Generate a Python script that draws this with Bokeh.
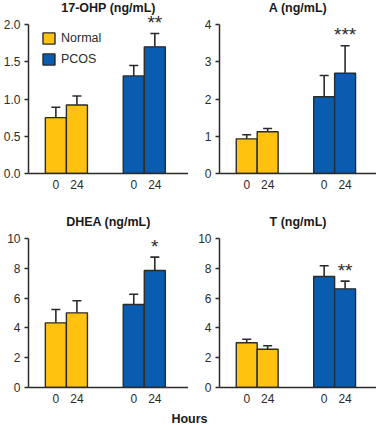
from bokeh.plotting import figure
from bokeh.layouts import column, row
from bokeh.models import (Range1d, FixedTicker, NumeralTickFormatter, Whisker, TeeHead,
                          ColumnDataSource, Legend, LegendItem, Label)
from bokeh.embed import file_html
from bokeh.resources import INLINE

# ---------------- data ----------------
groups = ["Normal", "PCOS"]
time_labels = ["0", "24"]

titles = ["17-OHP (ng/mL)", "A (ng/mL)", "DHEA (ng/mL)", "T (ng/mL)"]

ohp_normal = [0.75, 0.92]
ohp_normal_se = [0.14, 0.12]
ohp_pcos = [1.31, 1.70]
ohp_pcos_se = [0.14, 0.18]

a_normal = [0.93, 1.12]
a_normal_se = [0.11, 0.09]
a_pcos = [2.06, 2.69]
a_pcos_se = [0.57, 0.74]

dhea_normal = [4.34, 5.01]
dhea_normal_se = [0.89, 0.81]
dhea_pcos = [5.57, 7.85]
dhea_pcos_se = [0.69, 0.90]

t_normal = [3.00, 2.57]
t_normal_se = [0.24, 0.23]
t_pcos = [7.45, 6.62]
t_pcos_se = [0.72, 0.52]

significance = ["**", "***", "*", "**"]

y_max = [2, 4, 10, 10]
y_ticks = [[0, 0.5, 1.0, 1.5, 2.0], [0, 1, 2, 3, 4], [0, 2, 4, 6, 8, 10], [0, 2, 4, 6, 8, 10]]
y_fmt = ["0.0", "0", "0", "0"]

# ---------------- style ----------------
FONT = "Liberation Sans"
YELLOW = "#FFC20E"
BLUE = "#0A5CB0"
EDGE = "#2b2b2b"
TEXT = "#2b2b2b"

normal_x = [1.3, 2.3]
pcos_x = [5.0, 6.0]

AXIS_PX = 149  # pixel height of the drawn y axis (0 .. y_max)


def make_panel(i, normal, normal_se, pcos, pcos_se, w, h, left, top_gap, bottom, legend=False):
    x_end = 7.6 if left < 30 else 7.5
    frame_h = h - bottom
    y_end = y_max[i] * frame_h / AXIS_PX  # leave room above the axis for title
    p = figure(width=w, height=h, output_backend="svg", toolbar_location=None,
               x_range=Range1d(0, x_end), y_range=Range1d(0, y_end),
               min_border_left=left, min_border_right=0, min_border_top=0,
               min_border_bottom=bottom)
    p.outline_line_color = None
    p.xgrid.visible = False
    p.ygrid.visible = False
    p.background_fill_color = None
    p.border_fill_color = "white"

    # panel title above the axis top
    p.add_layout(Label(x=x_end / 2, y=y_max[i], text=titles[i], y_offset=17,
                       text_align="center", text_baseline="middle",
                       text_font=FONT, text_font_size="12.5px", text_font_style="bold",
                       text_color="#1a1a1a"))

    src_n = ColumnDataSource(dict(x=normal_x, top=normal,
                                  upper=[m + s for m, s in zip(normal, normal_se)]))
    src_p = ColumnDataSource(dict(x=pcos_x, top=pcos,
                                  upper=[m + s for m, s in zip(pcos, pcos_se)]))
    for src in (src_n, src_p):
        p.add_layout(Whisker(source=src, base="x", lower="top", upper="upper",
                             line_color=EDGE, line_width=1.6,
                             upper_head=TeeHead(size=9, line_color=EDGE, line_width=1.6),
                             lower_head=None, level="underlay"))
    rn = p.vbar(x="x", top="top", width=1.0, source=src_n, fill_color=YELLOW,
                line_color=EDGE, line_width=1.4)
    rp = p.vbar(x="x", top="top", width=1.0, source=src_p, fill_color=BLUE,
                line_color=EDGE, line_width=1.4)

    # significance marker above PCOS 24 h
    p.add_layout(Label(x=pcos_x[1], y=pcos[1] + pcos_se[1], text=significance[i],
                       y_offset=11, text_align="center", text_baseline="middle",
                       text_font=FONT, text_font_size="19px", text_color=TEXT))

    xa = p.xaxis[0]
    xa.ticker = FixedTicker(ticks=normal_x + pcos_x)
    xa.major_label_overrides = {normal_x[0]: time_labels[0], normal_x[1]: time_labels[1],
                                pcos_x[0]: time_labels[0], pcos_x[1]: time_labels[1]}
    xa.major_tick_out = 0
    xa.major_tick_in = 0
    xa.minor_tick_out = 0
    xa.minor_tick_in = 0
    xa.major_label_standoff = 6
    ya = p.yaxis[0]
    ya.bounds = (0, y_max[i])
    ya.ticker = FixedTicker(ticks=y_ticks[i])
    ya.formatter = NumeralTickFormatter(format=y_fmt[i])
    ya.major_tick_out = 4
    ya.major_tick_in = 0
    ya.minor_tick_out = 0
    ya.minor_tick_in = 0
    ya.major_label_standoff = 4
    for ax in (xa, ya):
        ax.axis_line_color = EDGE
        ax.axis_line_width = 1.5
        ax.major_tick_line_color = EDGE
        ax.major_tick_line_width = 1.5
        ax.major_label_text_font = FONT
        ax.major_label_text_font_size = "12px"
        ax.major_label_text_color = TEXT

    if legend:
        lg = Legend(items=[LegendItem(label=groups[0], renderers=[rn]),
                           LegendItem(label=groups[1], renderers=[rp])],
                    location=(13, 107), orientation="vertical",
                    glyph_width=15, glyph_height=14, label_height=14,
                    label_standoff=5, spacing=7, padding=2, margin=0,
                    border_line_color=None, background_fill_alpha=0,
                    label_text_font=FONT, label_text_font_size="12.5px",
                    label_text_color=TEXT)
        p.add_layout(lg)
    return p


p1 = make_panel(0, ohp_normal, ohp_normal_se, ohp_pcos, ohp_pcos_se,
                188, 200, 28, 24, 27, legend=True)
p2 = make_panel(1, a_normal, a_normal_se, a_pcos, a_pcos_se,
                188, 200, 31, 24, 27)
p3 = make_panel(2, dhea_normal, dhea_normal_se, dhea_pcos, dhea_pcos_se,
                188, 206, 28, 38, 19)
p4 = make_panel(3, t_normal, t_normal_se, t_pcos, t_pcos_se,
                188, 206, 31, 38, 19)

p5 = figure(width=376, height=19, output_backend="svg", toolbar_location=None,
            x_range=Range1d(0, 376), y_range=Range1d(0, 19),
            min_border=0, min_border_left=0, min_border_right=0,
            min_border_top=0, min_border_bottom=0)
p5.xaxis.visible = False
p5.yaxis.visible = False
p5.xgrid.visible = False
p5.ygrid.visible = False
p5.outline_line_color = None
p5.add_layout(Label(x=189, y=7, text="Hours", text_align="center", text_baseline="middle",
                    text_font=FONT, text_font_size="12.5px", text_font_style="bold",
                    text_color="#1a1a1a"))

layout = column(row(p1, p2), row(p3, p4), p5)

open("out.html", "w").write(file_html(layout, INLINE))
